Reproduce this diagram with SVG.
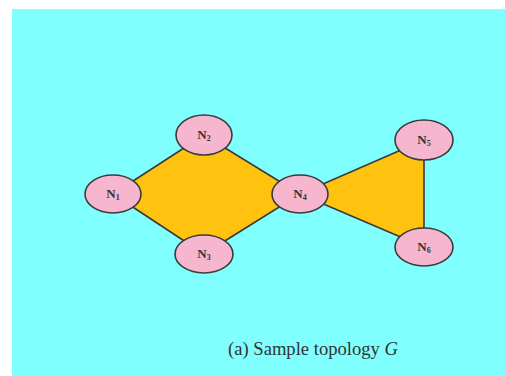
<svg xmlns="http://www.w3.org/2000/svg" width="505" height="376" viewBox="0 0 505 376">
<style>
.edge{stroke:#3a3a3a;stroke-width:1.6;fill:none}
.face{fill:#FFC20F;stroke:none}
.node ellipse{fill:#F6B6CE;stroke:#3a3a3a;stroke-width:1.6}
.lbl{font-family:"Liberation Serif",serif;font-weight:bold;font-size:13px;fill:#333;text-anchor:middle}
.sub{font-size:8px}
.cap{font-family:"Liberation Serif",serif;font-size:18.5px;fill:#333}
</style>
<rect x="12" y="9" width="493" height="367" fill="#80FFFF"/>
<g id="connectors">
<polygon class="face" points="113,194 204,135 300,194 204,254"/>
<polygon class="face" points="300,194 424,140 424,247"/>
<line class="edge" x1="113" y1="194" x2="204" y2="135"/>
<line class="edge" x1="204" y1="135" x2="300" y2="194"/>
<line class="edge" x1="113" y1="194" x2="204" y2="254"/>
<line class="edge" x1="204" y1="254" x2="300" y2="194"/>
<line class="edge" x1="300" y1="194" x2="424" y2="140"/>
<line class="edge" x1="300" y1="194" x2="424" y2="247"/>
<line class="edge" x1="424" y1="140" x2="424" y2="247"/>
</g>
<g id="N1" class="node"><ellipse cx="113" cy="194" rx="28" ry="19"/><text class="lbl" x="113" y="198">N<tspan class="sub" dy="2">1</tspan></text></g>
<g id="N2" class="node"><ellipse cx="204" cy="135" rx="28" ry="20"/><text class="lbl" x="204" y="139">N<tspan class="sub" dy="2">2</tspan></text></g>
<g id="N3" class="node"><ellipse cx="204" cy="254" rx="29" ry="19"/><text class="lbl" x="204" y="258">N<tspan class="sub" dy="2">3</tspan></text></g>
<g id="N4" class="node"><ellipse cx="300" cy="194" rx="28" ry="19"/><text class="lbl" x="300" y="198">N<tspan class="sub" dy="2">4</tspan></text></g>
<g id="N5" class="node"><ellipse cx="424" cy="140" rx="29" ry="20"/><text class="lbl" x="424" y="144">N<tspan class="sub" dy="2">5</tspan></text></g>
<g id="N6" class="node"><ellipse cx="424" cy="247" rx="29" ry="19"/><text class="lbl" x="424" y="251">N<tspan class="sub" dy="2">6</tspan></text></g>
<text class="cap" x="228" y="355" textLength="170" lengthAdjust="spacingAndGlyphs">(a) Sample topology <tspan font-style="italic">G</tspan></text>
</svg>
